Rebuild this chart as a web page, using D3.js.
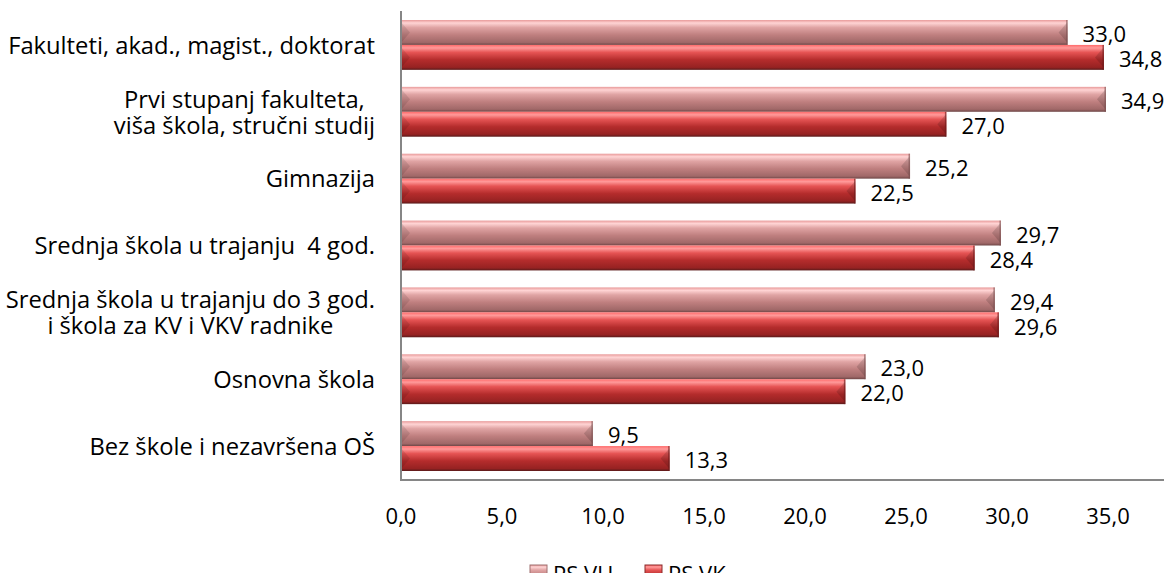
<!DOCTYPE html>
<html>
<head>
<meta charset="utf-8">
<script src="https://cdn.jsdelivr.net/npm/d3@7"></script>
<style>
  body { margin: 0; background: #fff; }
  svg text { font-family: "Open Sans", "Liberation Sans", sans-serif; fill: #000; }
</style>
</head>
<body>
<div class="chart"></div>
<script>
// data
var categories = [
  "Fakulteti, akad., magist., doktorat",
  "Prvi stupanj fakulteta,|viša škola, stručni studij",
  "Gimnazija",
  "Srednja škola u trajanju  4 god.",
  "Srednja škola u trajanju do 3 god.|i škola za KV i VKV radnike",
  "Osnovna škola",
  "Bez škole i nezavršena OŠ"
];
var seriesNames = ["PS VU", "PS VK"];
var psVU = [33.0, 34.9, 25.2, 29.7, 29.4, 23.0, 9.5];
var psVK = [34.8, 27.0, 22.5, 28.4, 29.6, 22.0, 13.3];
var xTicks = [0, 5, 10, 15, 20, 25, 30, 35];

var svgWidth = 1164;
var svgHeight = 573;
var numSize = 22;

var svg = d3.select(".chart")
  .append("svg")
  .attr("width", svgWidth)
  .attr("height", svgHeight);

// pick a font size so the longest one-line label is about as wide as in the original
var probe = svg.append("text").style("font-size", "20px").style("white-space", "pre").text(categories[0]);
var fontSize = Math.min(24, 20 * 367 / probe.node().getComputedTextLength());
probe.remove();

var defs = svg.append("defs");

// 3d-ish gradients for the two series
var grads = [
  [[0, "#e89a9a"], [0.12, "#ffd4d4"], [0.3, "#e0a4a4"], [0.6, "#bf7f7f"], [0.9, "#a06868"], [1, "#6e4646"]],
  [[0, "#ff6a6a"], [0.12, "#ff9a9a"], [0.3, "#e65454"], [0.6, "#b42c2c"], [0.9, "#962222"], [1, "#5a1a1a"]]
];
grads.forEach(function(stops, i) {
  var g = defs.append("linearGradient")
    .attr("id", "grad" + i)
    .attr("x1", 0).attr("y1", 0).attr("x2", 0).attr("y2", 1);
  stops.forEach(function(s) {
    g.append("stop").attr("offset", s[0]).attr("stop-color", s[1]);
  });
});

var x = d3.scaleLinear().domain([0, 35]).range([401, 1108]);
var y = d3.scaleBand().domain(d3.range(categories.length)).range([12, 480]);
var ySub = d3.scaleBand().domain([0, 1]).range([8, y.bandwidth() - 9]);

var rows = categories.map(function(c, i) {
  return {cat: c, vals: [psVU[i], psVK[i]], i: i};
});

var group = svg.selectAll(".row")
  .data(rows)
  .enter()
  .append("g")
  .attr("class", "row")
  .attr("transform", function(d) { return "translate(0," + y(d.i) + ")"; });

var bars = group.selectAll(".bar")
  .data(function(d) { return d.vals.map(function(v, s) { return {v: v, s: s}; }); })
  .enter()
  .append("g")
  .attr("class", "bar");

bars.append("rect")
  .attr("x", x(0))
  .attr("y", function(d) { return ySub(d.s); })
  .attr("width", function(d) { return x(d.v) - x(0); })
  .attr("height", ySub.bandwidth())
  .attr("fill", function(d) { return "url(#grad" + d.s + ")"; });

// bevel at the bar end
bars.append("path")
  .attr("d", function(d) {
    var xe = x(d.v), y0 = ySub(d.s), h = ySub.bandwidth();
    return "M" + xe + "," + (y0 + 2) + "L" + (xe - 9) + "," + (y0 + h / 2) +
      "L" + xe + "," + (y0 + h - 2) + "Z";
  })
  .attr("fill", "#000")
  .attr("opacity", 0.14);
bars.append("rect")
  .attr("x", function(d) { return x(d.v) - 1.5; })
  .attr("y", function(d) { return ySub(d.s); })
  .attr("width", 1.5)
  .attr("height", ySub.bandwidth())
  .attr("fill", function(d) { return d.s ? "#6a1a1a" : "#7a5050"; })
  .attr("opacity", 0.6);
// bevel at the start
bars.append("path")
  .attr("d", function(d) {
    var xs = x(0), y0 = ySub(d.s), h = ySub.bandwidth();
    return "M" + xs + "," + (y0 + 2) + "L" + (xs + 9) + "," + (y0 + h / 2) +
      "L" + xs + "," + (y0 + h - 2) + "Z";
  })
  .attr("fill", "#000")
  .attr("opacity", 0.1);

// value labels
bars.append("text")
  .attr("x", function(d) { return x(d.v) + 15; })
  .attr("y", function(d) { return ySub(d.s) + ySub.bandwidth() / 2 + 2; })
  .attr("dy", "0.35em")
  .style("font-size", numSize + "px")
  .text(function(d) { return d3.format(".1f")(d.v).replace(".", ","); });

// category labels, wrapped lines centered in a right aligned block
group.each(function(d) {
  var lines = d.cat.split("|");
  var g = d3.select(this).append("g");
  var texts = lines.map(function(l, k) {
    return g.append("text")
      .attr("y", y.bandwidth() / 2 + (k - (lines.length - 1) / 2) * 26)
      .attr("dy", "0.35em")
      .attr("text-anchor", "middle")
      .style("font-size", fontSize + "px")
      .style("white-space", "pre")
      .text(l);
  });
  var w = d3.max(texts, function(t) { return t.node().getComputedTextLength(); });
  texts.forEach(function(t) { t.attr("x", 375 - w / 2); });
});

// axes
svg.append("line")
  .attr("x1", x(0)).attr("x2", x(0))
  .attr("y1", 11).attr("y2", 481)
  .attr("stroke", "#868686").attr("stroke-width", 2);
svg.append("line")
  .attr("x1", x(0)).attr("x2", svgWidth)
  .attr("y1", 480).attr("y2", 480)
  .attr("stroke", "#868686").attr("stroke-width", 2);

svg.selectAll(".xtick")
  .data(xTicks)
  .enter()
  .append("text")
  .attr("class", "xtick")
  .attr("x", function(d) { return x(d); })
  .attr("y", 516)
  .attr("dy", "0.35em")
  .attr("text-anchor", "middle")
  .style("font-size", numSize + "px")
  .text(function(d) { return d3.format(".1f")(d).replace(".", ","); });

// legend
var legendX = [530, 645];
var legend = svg.selectAll(".legend")
  .data(seriesNames)
  .enter()
  .append("g")
  .attr("class", "legend")
  .attr("transform", function(d, i) { return "translate(" + legendX[i] + ",565)"; });
legend.append("rect")
  .attr("width", 17).attr("height", 17)
  .attr("fill", function(d, i) { return "url(#grad" + i + ")"; })
  .attr("stroke", function(d, i) { return i ? "#8a2a2a" : "#a07070"; });
legend.append("text")
  .attr("x", 23)
  .attr("y", 17)
  .style("font-size", numSize + "px")
  .text(function(d) { return d; });
</script>
</body>
</html>
